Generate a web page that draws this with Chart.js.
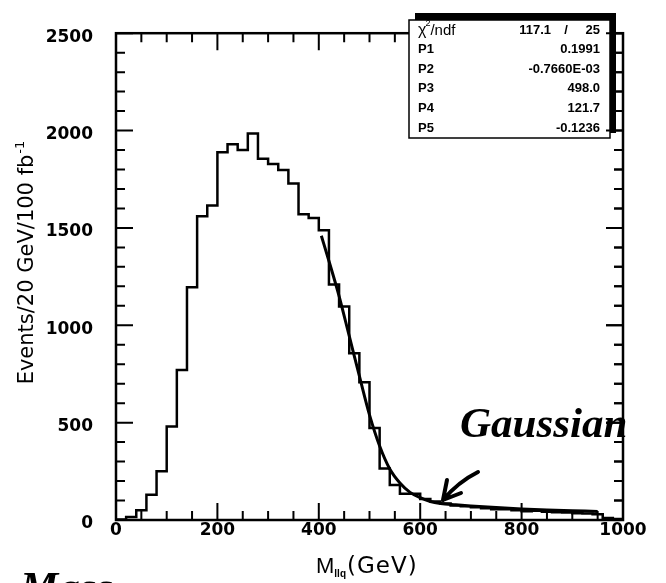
<!DOCTYPE html>
<html>
<head>
<meta charset="utf-8">
<script src="https://cdn.jsdelivr.net/npm/chart.js@4.4.1/dist/chart.umd.min.js"></script>
<style>
  html, body { margin: 0; padding: 0; background: #fff; }
</style>
</head>
<body>
<canvas id="myChart" width="666" height="583"></canvas>
<script>
// M_llq spectrum, 20 GeV bins from 0 to 1000 GeV
const binWidth = 20;
const counts = [
  3, 15, 50, 130, 250, 480, 770, 1195, 1560, 1615,
  1888, 1930, 1900, 1985, 1855, 1828, 1797, 1728, 1570, 1551,
  1488, 1210, 1097, 856, 708, 473, 265, 180, 135, 135,
  108, 95, 85, 75, 70, 65, 60, 55, 55, 50,
  45, 48, 42, 40, 38, 35, 33, 30, 10, 5
];

// fitted tail
const fitMass  = [405, 420, 440, 460, 480, 500, 520, 540, 560, 580, 600, 620, 640, 670, 700, 750, 800, 850, 900, 950];
const fitValue = [1460, 1330, 1150, 945, 740, 540, 380, 262, 190, 142, 115, 95, 85, 78, 72, 64, 57, 52, 48, 44];

const xTicks = [0, 200, 400, 600, 800, 1000];
const yTicks = [0, 500, 1000, 1500, 2000, 2500];

// fit results box
const chi2 = '117.1';
const ndf = '25';
const parNames = ['P1', 'P2', 'P3', 'P4', 'P5'];
const parValues = ['0.1991', '-0.7660E-03', '498.0', '121.7', '-0.1236'];

const histPoints = counts.map((c, i) => ({ x: i * binWidth, y: c }));
histPoints.push({ x: counts.length * binWidth, y: counts[counts.length - 1] });
const fitPoints = fitMass.map((m, i) => ({ x: m, y: fitValue[i] }));

function drawTicks(ctx, a, x, y, sides) {
  ctx.beginPath();
  for (let v = 0; v <= 1000; v += 50) {
    const px = x.getPixelForValue(v);
    const len = v % 200 === 0 ? 17 : 9;
    if (sides.bottom) { ctx.moveTo(px, a.bottom); ctx.lineTo(px, a.bottom - len); }
    if (sides.top) { ctx.moveTo(px, a.top); ctx.lineTo(px, a.top + len); }
  }
  for (let v = 0; v <= 2500; v += 100) {
    const py = y.getPixelForValue(v);
    const len = v % 500 === 0 ? 17 : 9;
    if (sides.left) { ctx.moveTo(a.left, py); ctx.lineTo(a.left + len, py); }
    if (sides.right) { ctx.moveTo(a.right, py); ctx.lineTo(a.right - len, py); }
  }
  ctx.stroke();
}

const framePlugin = {
  id: 'frame',
  afterDatasetsDraw(chart) {
    const { ctx, chartArea: a, scales: { x, y } } = chart;
    ctx.save();
    ctx.strokeStyle = '#000';
    ctx.fillStyle = '#000';
    ctx.lineCap = 'butt';

    ctx.lineWidth = 2.5;
    ctx.strokeRect(a.left, a.top, a.right - a.left, a.bottom - a.top);
    ctx.lineWidth = 2;
    drawTicks(ctx, a, x, y, { bottom: true, top: true, left: true, right: true });

    // stats box with shadow
    ctx.fillRect(415, 13, 201, 120);
    ctx.fillStyle = '#fff';
    ctx.fillRect(409, 20, 201, 118);
    ctx.lineWidth = 1.5;
    ctx.strokeRect(409, 20, 201, 118);
    ctx.lineWidth = 2;
    drawTicks(ctx, a, x, y, { right: true });

    ctx.fillStyle = '#000';
    ctx.textBaseline = 'middle';
    ctx.font = '16px "Liberation Sans"';
    ctx.textAlign = 'left';
    ctx.fillText('\u03c7', 418, 31);
    const chiW = ctx.measureText('\u03c7').width;
    ctx.font = '9px "Liberation Sans"';
    ctx.fillText('2', 418 + chiW - 1, 24);
    ctx.font = '15px "Liberation Sans"';
    ctx.fillText('/ndf', 418 + chiW + 4, 31);
    ctx.font = 'bold 13px "Liberation Sans"';
    ctx.textAlign = 'right';
    ctx.fillText(chi2, 551, 30);
    ctx.fillText(ndf, 600, 30);
    ctx.textAlign = 'center';
    ctx.fillText('/', 566, 30);
    parNames.forEach((p, i) => {
      const ty = 49.6 + 19.6 * i;
      ctx.textAlign = 'left';
      ctx.fillText(p, 418, ty);
      ctx.textAlign = 'right';
      ctx.fillText(parValues[i], 600, ty);
    });

    // axis titles
    ctx.textBaseline = 'alphabetic';
    ctx.save();
    ctx.translate(33, 263);
    ctx.rotate(-Math.PI / 2);
    ctx.font = '21px "DejaVu Sans"';
    const main = 'Events/20 GeV/100 fb';
    const mainW = ctx.measureText(main).width;
    ctx.font = '13px "DejaVu Sans"';
    const supW = ctx.measureText('-1').width;
    const start = -(mainW + supW) / 2;
    ctx.textAlign = 'left';
    ctx.font = '21px "DejaVu Sans"';
    ctx.fillText(main, start, 0);
    ctx.font = '13px "DejaVu Sans"';
    ctx.fillText('-1', start + mainW + 1, -9);
    ctx.restore();

    ctx.textAlign = 'left';
    ctx.font = '22px "Liberation Sans"';
    ctx.fillText('M', 316, 573);
    const mW = ctx.measureText('M').width;
    ctx.font = 'bold 10px "Liberation Sans"';
    ctx.fillText('llq', 316 + mW, 577);
    ctx.font = '23px "DejaVu Sans"';
    ctx.letterSpacing = '1px';
    ctx.fillText('(GeV)', 347, 573);
    ctx.letterSpacing = '0px';

    // handwritten notes
    ctx.font = 'italic bold 43px "Liberation Serif"';
    ctx.fillText('Gaussian', 460, 437);
    ctx.fillText('Mass', 20, 601);
    ctx.lineWidth = 4;
    ctx.lineCap = 'round';
    ctx.lineJoin = 'round';
    ctx.beginPath();
    ctx.moveTo(478, 472);
    ctx.quadraticCurveTo(458, 482, 443, 500);
    ctx.moveTo(447, 480);
    ctx.lineTo(443, 500);
    ctx.lineTo(461, 493);
    ctx.stroke();

    ctx.restore();
  }
};

const ctx = document.getElementById('myChart');

const histChart = new Chart(ctx, {
  type: 'line',
  data: {
    datasets: [{
      label: 'M_llq',
      data: histPoints,
      stepped: 'before',
      borderColor: '#000',
      borderWidth: 2.5,
      borderJoinStyle: 'miter',
      pointRadius: 0,
      fill: false
    }, {
      label: 'fit',
      data: fitPoints,
      borderColor: '#000',
      borderWidth: 3,
      cubicInterpolationMode: 'monotone',
      pointRadius: 0,
      fill: false
    }]
  },
  options: {
    responsive: false,
    animation: false,
    devicePixelRatio: 1,
    layout: { padding: { left: 0, right: 43, top: 14, bottom: 0 } },
    plugins: {
      legend: { display: false },
      tooltip: { enabled: false }
    },
    scales: {
      x: {
        type: 'linear',
        min: 0,
        max: 1000,
        grid: { display: false, drawTicks: false },
        border: { display: false },
        afterBuildTicks: (s) => { s.ticks = xTicks.map(v => ({ value: v })); },
        afterFit: (s) => { s.height = 63; },
        ticks: {
          color: '#000',
          padding: 0,
          maxRotation: 0,
          callback: (v) => String(v),
          font: { family: 'DejaVu Sans', size: 17, weight: 'bold' }
        }
      },
      y: {
        type: 'linear',
        min: 0,
        max: 2500,
        grid: { display: false, drawTicks: false },
        border: { display: false },
        afterBuildTicks: (s) => { s.ticks = yTicks.map(v => ({ value: v })); },
        afterFit: (s) => { s.width = 116; },
        ticks: {
          color: '#000',
          padding: 23,
          labelOffset: 4,
          callback: (v) => String(v),
          font: { family: 'DejaVu Sans', size: 17, weight: 'bold' }
        }
      }
    }
  },
  plugins: [framePlugin]
});
</script>
</body>
</html>
